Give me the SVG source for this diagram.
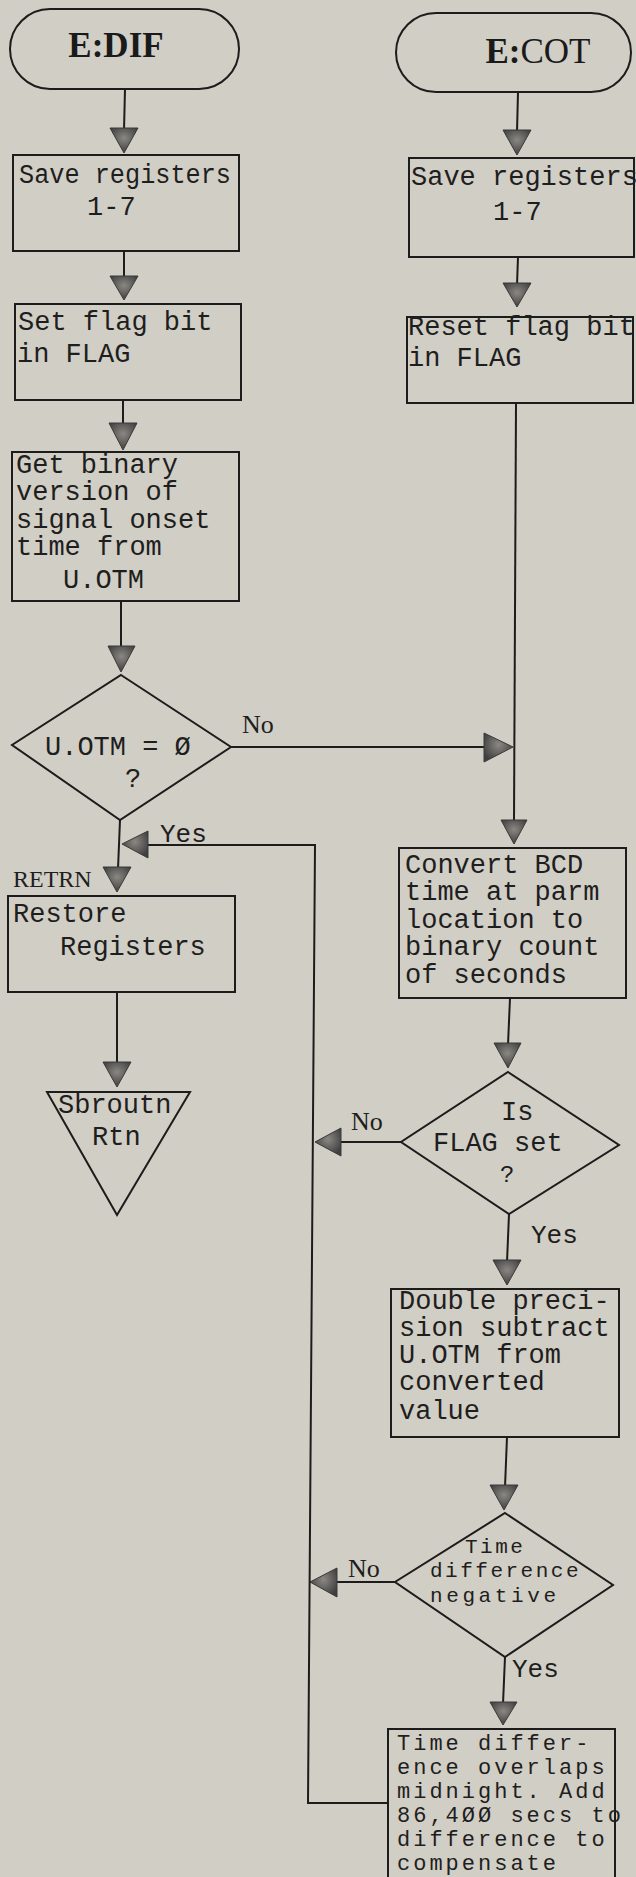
<svg xmlns="http://www.w3.org/2000/svg" width="636" height="1877" viewBox="0 0 636 1877">
<style>
.bg{fill:#d1cec5}
.shape{fill:none;stroke:#1c1c1c;stroke-width:2}
.line{fill:none;stroke:#1c1c1c;stroke-width:2}
.ah{fill:url(#ahg);stroke:#3a3a3a;stroke-width:1}
.t{font-family:"Liberation Mono","DejaVu Sans Mono",monospace;font-size:27px;fill:#1e1e1e}
.sm{font-family:"Liberation Mono","DejaVu Sans Mono",monospace;font-size:22px;letter-spacing:3px;fill:#1e1e1e}
.lbl{font-family:"Liberation Mono","DejaVu Sans Mono",monospace;font-size:26px;fill:#1e1e1e}
.ser{font-family:"Liberation Serif","DejaVu Serif",serif;font-size:26px;fill:#1e1e1e}
.term{font-family:"Liberation Serif","DejaVu Serif",serif;font-size:35px;fill:#1a1a1a;text-anchor:middle}
</style>
<defs>
<radialGradient id="ahg" cx="50%" cy="40%" r="60%">
<stop offset="0" stop-color="#8a8883"/>
<stop offset="1" stop-color="#3e3e3e"/>
</radialGradient>
</defs>
<rect class="bg" x="0" y="0" width="636" height="1877"/>

<g id="connectors">
<line class="line" x1="125" y1="89" x2="124" y2="130"/>
<polygon class="ah" points="110,128 138,128 124,153"/>
<line class="line" x1="124" y1="251" x2="124" y2="278"/>
<polygon class="ah" points="110,276 138,276 124,300"/>
<line class="line" x1="123" y1="400" x2="123" y2="425"/>
<polygon class="ah" points="109,423 137,423 123,450"/>
<line class="line" x1="121" y1="601" x2="121" y2="648"/>
<polygon class="ah" points="108,646 135,646 121,672"/>
<line class="line" x1="120" y1="820" x2="118" y2="869"/>
<polygon class="ah" points="103,867 131,867 117,892"/>
<line class="line" x1="117" y1="992" x2="117" y2="1064"/>
<polygon class="ah" points="103,1062 131,1062 117,1087"/>

<line class="line" x1="518" y1="92" x2="517" y2="132"/>
<polygon class="ah" points="503,130 531,130 517,155"/>
<line class="line" x1="518" y1="257" x2="517" y2="285"/>
<polygon class="ah" points="503,283 531,283 517,307"/>
<line class="line" x1="516" y1="403" x2="514" y2="822"/>
<polygon class="ah" points="501,820 527,820 514,844"/>
<line class="line" x1="231" y1="747" x2="486" y2="747"/>
<polygon class="ah" points="484,733 484,762 513,747"/>
<line class="line" x1="510" y1="998" x2="508" y2="1045"/>
<polygon class="ah" points="494,1043 521,1043 508,1068"/>
<line class="line" x1="401" y1="1142" x2="339" y2="1142"/>
<polygon class="ah" points="341,1128 341,1156 315,1142"/>
<line class="line" x1="509" y1="1214" x2="507" y2="1262"/>
<polygon class="ah" points="493,1260 521,1260 507,1285"/>
<line class="line" x1="507" y1="1437" x2="505" y2="1487"/>
<polygon class="ah" points="490,1485 518,1485 504,1510"/>
<line class="line" x1="395" y1="1582" x2="335" y2="1582"/>
<polygon class="ah" points="337,1568 337,1597 310,1582"/>
<line class="line" x1="505" y1="1657" x2="503" y2="1704"/>
<polygon class="ah" points="490,1702 517,1702 503,1725"/>
<polyline class="line" points="388,1803 308,1803 315,845 146,845"/>
<polygon class="ah" points="148,831 148,858 122,844"/>

<text class="ser" x="242" y="733">No</text>
<text class="lbl" x="160" y="842">Yes</text>
<text class="ser" x="351" y="1130">No</text>
<text class="lbl" x="531" y="1243">Yes</text>
<text class="ser" x="348" y="1577">No</text>
<text class="lbl" x="512" y="1677">Yes</text>
<text class="ser" x="13" y="887" style="font-size:24px">RETRN</text>
</g>

<g id="n_edif">
<rect class="shape" x="10" y="9" width="229" height="80" rx="40" ry="40"/>
<text class="term" x="116" y="57" font-weight="bold">E:DIF</text>
</g>
<g id="n_save1">
<rect class="shape" x="13" y="155" width="226" height="96"/>
<text class="t" x="19" y="183" textLength="212" lengthAdjust="spacingAndGlyphs">Save registers</text>
<text class="t" x="87" y="215">1-7</text>
</g>
<g id="n_setflag">
<rect class="shape" x="15" y="304" width="226" height="96"/>
<text class="t" x="18" y="330">Set flag bit</text>
<text class="t" x="17" y="362">in FLAG</text>
</g>
<g id="n_getbin">
<rect class="shape" x="12" y="452" width="227" height="149"/>
<text class="t" x="16" y="473">Get binary</text>
<text class="t" x="16" y="500">version of</text>
<text class="t" x="16" y="528">signal onset</text>
<text class="t" x="16" y="555">time from</text>
<text class="t" x="63" y="588">U.OTM</text>
</g>
<g id="n_otmzero">
<polygon class="shape" points="121,675 231,747 120,820 12,745"/>
<text class="t" x="45" y="755">U.OTM = Ø</text>
<text class="t" x="125" y="787">?</text>
</g>
<g id="n_restore">
<rect class="shape" x="8" y="896" width="227" height="96"/>
<text class="t" x="13" y="922">Restore</text>
<text class="t" x="60" y="955">Registers</text>
</g>
<g id="n_rtn">
<polygon class="shape" points="47,1092 190,1092 117,1215"/>
<text class="t" x="58" y="1113">Sbroutn</text>
<text class="t" x="92" y="1145">Rtn</text>
</g>

<g id="n_ecot">
<rect class="shape" x="396" y="13" width="235" height="79" rx="40" ry="40"/>
<text class="term" x="538" y="63"><tspan font-weight="bold">E:</tspan>COT</text>
</g>
<g id="n_save2">
<rect class="shape" x="409" y="158" width="225" height="99"/>
<text class="t" x="411" y="185">Save registers</text>
<text class="t" x="493" y="220">1-7</text>
</g>
<g id="n_resetflag">
<rect class="shape" x="407" y="317" width="226" height="86"/>
<text class="t" x="408" y="335">Reset flag bit</text>
<text class="t" x="408" y="366">in FLAG</text>
</g>
<g id="n_convert">
<rect class="shape" x="399" y="848" width="227" height="150"/>
<text class="t" x="405" y="873">Convert BCD</text>
<text class="t" x="405" y="900">time at parm</text>
<text class="t" x="405" y="928">location to</text>
<text class="t" x="405" y="955">binary count</text>
<text class="t" x="405" y="983">of seconds</text>
</g>
<g id="n_flagset">
<polygon class="shape" points="508,1072 619,1145 509,1214 401,1142"/>
<text class="t" x="501" y="1120">Is</text>
<text class="t" x="433" y="1151">FLAG set</text>
<text class="t" x="500" y="1182" style="font-size:24px">?</text>
</g>
<g id="n_subtract">
<rect class="shape" x="391" y="1289" width="228" height="148"/>
<text class="t" x="399" y="1309">Double preci-</text>
<text class="t" x="399" y="1336">sion subtract</text>
<text class="t" x="399" y="1363">U.OTM from</text>
<text class="t" x="399" y="1390">converted</text>
<text class="t" x="399" y="1419">value</text>
</g>
<g id="n_negative">
<polygon class="shape" points="505,1513 613,1585 505,1657 395,1582"/>
<text class="sm" x="465" y="1553" style="font-size:21px;letter-spacing:2.5px">Time</text>
<text class="sm" x="430" y="1577" style="font-size:21px;letter-spacing:2.5px">difference</text>
<text class="sm" x="430" y="1602" style="font-size:21px;letter-spacing:3.6px">negative</text>
</g>
<g id="n_midnight">
<rect class="shape" x="388" y="1729" width="227" height="170"/>
<text class="sm" x="397" y="1750">Time differ-</text>
<text class="sm" x="397" y="1774">ence overlaps</text>
<text class="sm" x="397" y="1798">midnight. Add</text>
<text class="sm" x="397" y="1822">86,4ØØ secs to</text>
<text class="sm" x="397" y="1846">difference to</text>
<text class="sm" x="397" y="1870">compensate</text>
</g>
</svg>
